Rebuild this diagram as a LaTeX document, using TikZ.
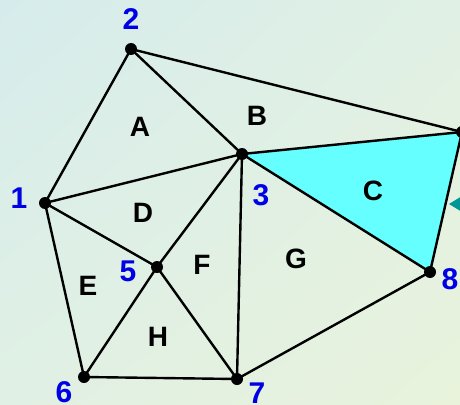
\documentclass[tikz,border=0pt]{standalone}
\usepackage{fontspec}
\usetikzlibrary{shadings}
\setmainfont{Liberation Sans}
\definecolor{bgA}{RGB}{214,236,236}
\definecolor{bgB}{RGB}{224,240,228}
\definecolor{bgC}{RGB}{233,243,220}
\definecolor{cfill}{RGB}{102,255,255}
\definecolor{numblue}{RGB}{0,0,230}
\definecolor{teal2}{RGB}{0,150,150}
\tikzset{
  edge/.style={line width=2.4pt, black},
  vdot/.style={circle, fill=black, inner sep=0pt, minimum size=12pt},
  region/.style={font=\fontsize{28}{28}\selectfont\bfseries, text=black, inner sep=0pt},
  vnum/.style={font=\fontsize{30}{30}\selectfont\bfseries, text=numblue, inner sep=0pt},
}
\begin{document}
\begin{tikzpicture}[x=1pt,y=-1pt]
\useasboundingbox (0,0) rectangle (460,404);
\clip (0,0) rectangle (460,404);
\shade[upper left=bgA, upper right=bgB, lower left=bgB, lower right=bgC] (0,0) rectangle (460,404);
% vertices
\coordinate (p1) at (45,203);
\coordinate (p2) at (131,49);
\coordinate (p3) at (242,154);
\coordinate (p4) at (462,132);
\coordinate (p5) at (157,267);
\coordinate (p6) at (84,377);
\coordinate (p7) at (237,379);
\coordinate (p8) at (430,272);
% shaded triangle C
\fill[cfill] (p3) -- (p4) -- (p8) -- cycle;
% arrow
\fill[teal2] (449,204) coordinate (at) -- (462,196) -- (462,212) -- cycle;
% edges
\draw[edge] (p1) -- (p2);
\draw[edge] (p2) -- (p3);
\draw[edge] (p2) -- (p4);
\draw[edge] (p1) -- (p3);
\draw[edge] (p3) -- (p4);
\draw[edge] (p3) -- (p8);
\draw[edge] (p4) -- (p8);
\draw[edge] (p1) -- (p5);
\draw[edge] (p3) -- (p5);
\draw[edge] (p1) -- (p6);
\draw[edge] (p5) -- (p6);
\draw[edge] (p5) -- (p7);
\draw[edge] (p3) -- (p7);
\draw[edge] (p6) -- (p7);
\draw[edge] (p7) -- (p8);
% dots
\foreach \p in {p1,p2,p3,p4,p5,p6,p7,p8} \node[vdot] (d\p) at (\p) {};
% region labels
\node[region] (lA) at (140,127) {A};
\node[region] (lB) at (257,116) {B};
\node[region] (lC) at (373,191) {C};
\node[region] (lD) at (143,213) {D};
\node[region] (lE) at (88,286) {E};
\node[region] (lF) at (202,265) {F};
\node[region] (lG) at (296,259) {G};
\node[region] (lH) at (158,337) {H};
% vertex numbers
\node[vnum] (n1) at (19,198) {1};
\node[vnum] (n2) at (131,19) {2};
\node[vnum] (n3) at (261,195) {3};
\node[vnum] (n5) at (128,271) {5};
\node[vnum] (n6) at (64,392) {6};
\node[vnum] (n7) at (257,393) {7};
\node[vnum] (n8) at (450,279) {8};
\end{tikzpicture}
\end{document}
